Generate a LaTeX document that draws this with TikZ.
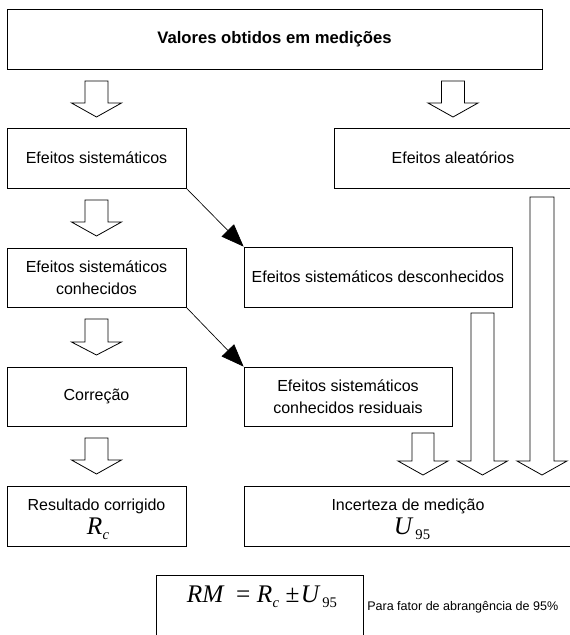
\documentclass[tikz,border=0pt]{standalone}
\usepackage{fontspec}
\setmainfont{Liberation Sans}
\newfontfamily\tms{Liberation Serif}
\usetikzlibrary{arrows.meta}
\newcommand\mRc{{\tms\fontsize{19}{19}\selectfont\itshape R\kern0.3pt\raisebox{-3.5pt}{\fontsize{11}{11}\selectfont c}}}
\newcommand\mUn{{\tms\fontsize{19}{19}\selectfont\itshape U\kern2.5pt\raisebox{-3.5pt}{\fontsize{11}{11}\selectfont\upshape 95}}}
\newcommand\harrow[6]{%
  \draw[hollow] (#1-#5,#2) -- (#1+#5,#2) -- (#1+#5,#3) -- (#1+#6,#3) -- (#1,#4)
    -- (#1-#6,#3) -- (#1-#5,#3) -- cycle;}
\begin{document}
\begin{tikzpicture}[x=0.75pt,y=-0.75pt,
  box/.style n args={2}{draw=black, line width=0.6pt, minimum width=#1, minimum height=#2,
     inner sep=0pt, align=center, font=\fontsize{12}{16.5}\selectfont},
  hollow/.style={draw=black, line width=0.6pt, fill=white},
  diag/.style={draw=black, line width=0.5pt, -{Triangle[length=17pt,width=13pt]}}]
\useasboundingbox (0,0) rectangle (570,635);
\clip (0,0) rectangle (570,635);
\fill[white] (0,0) rectangle (570,635);

\node[box={401.25pt}{45pt}, font=\fontsize{12.5}{15}\selectfont\bfseries] (top) at (274.5,39) {Valores obtidos em medições};
\node[box={134.25pt}{45pt}] (sis) at (96.5,158) {Efeitos sistemáticos};
\node[box={178.5pt}{45pt}] (ale) at (453,158) {Efeitos aleatórios};
\node[box={134.25pt}{44.25pt}] (con) at (96.5,277.5) {Efeitos sistemáticos\\conhecidos};
\node[box={201pt}{45pt}] (des) at (378,277) {Efeitos sistemáticos desconhecidos};
\node[box={134.25pt}{44.25pt}] (cor) at (96.5,396.5) {Correção};
\node[box={156pt}{44.25pt}] (res) at (348,396.5) {Efeitos sistemáticos\\conhecidos residuais};
\node[box={134.25pt}{45pt}] (rc) at (96.5,516) {};
\node[inner sep=0pt, font=\fontsize{12}{14}\selectfont] (rclabel) at (96.5,506) {Resultado corrigido};
\node[inner sep=0pt] (rcsym) at (98,529) {\mRc};
\node[box={246pt}{45pt}] (inc) at (408,516) {};
\node[inner sep=0pt, font=\fontsize{12}{14}\selectfont] (inclabel) at (408,506) {Incerteza de medição};
\node[inner sep=0pt] (incsym) at (412,529) {\mUn};
\node[box={155.25pt}{52.5pt}] (rm) at (259.5,610) {};
\node[inner sep=0pt] (rmtext) at (262,597) {{\tms\fontsize{19}{19}\selectfont\itshape RM\ \ \upshape=\ }\mRc{\tms\fontsize{19}{19}\selectfont\ \upshape±\kern1pt}\mUn};
\node[anchor=west, inner sep=0pt, font=\fontsize{9.4}{11}\selectfont] (note) at (367,607) {Para fator de abrangência de 95\%};

\harrow{96.5}{81}{103}{117}{11.5}{25}
\harrow{453}{81}{103}{117}{11.5}{25}
\harrow{96.5}{200}{222}{236}{11.5}{25}
\harrow{96.5}{319}{342}{355}{11.5}{25}
\harrow{96.5}{438}{460}{474}{11.5}{25}
\harrow{423}{433}{461}{475}{11}{25}
\harrow{482.5}{313}{461}{475}{11.5}{25}
\harrow{542}{197}{461}{475}{12}{25}

\draw[diag] (sis.south east) -- (des.north west);
\draw[diag] (con.south east) -- (res.north west);
\end{tikzpicture}
\end{document}
